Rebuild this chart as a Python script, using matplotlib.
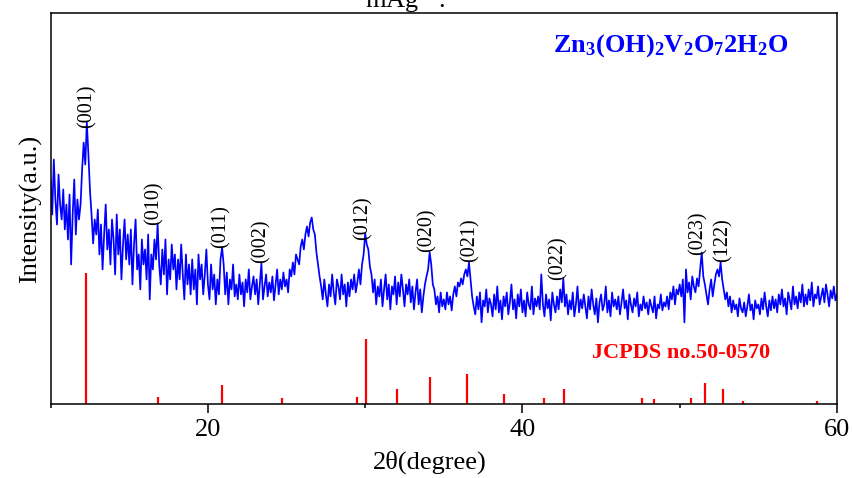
import numpy as np
import matplotlib
matplotlib.use("Agg")
import matplotlib.pyplot as plt
from matplotlib.ticker import MultipleLocator

plt.rcParams['font.family'] = ['Liberation Serif', 'DejaVu Serif']
plt.rcParams['mathtext.fontset'] = 'custom'
plt.rcParams['mathtext.rm'] = 'Liberation Serif'
plt.rcParams['mathtext.it'] = 'Liberation Serif:italic'
plt.rcParams['mathtext.bf'] = 'Liberation Serif:bold'

# measured pattern, 0.1 degree steps from 10 to 60 (a.u.)
two_theta = np.round(np.arange(10.0, 60.01, 0.1), 1)
intensity = [
    225, 190, 245, 205, 180, 230, 200, 185, 215, 175,
    200, 165, 210, 140, 190, 225, 170, 205, 185, 200,
    235, 262, 240, 282, 250, 214, 190, 161, 185, 170,
    195, 150, 180, 135, 170, 200, 155, 175, 140, 185,
    165, 130, 190, 150, 175, 125, 160, 185, 145, 170,
    140, 175, 120, 160, 185, 135, 150, 115, 165, 140,
    155, 125, 170, 105, 150, 135, 165, 145, 181, 140,
    120, 155, 130, 165, 110, 145, 125, 160, 135, 150,
    115, 145, 125, 160, 130, 105, 150, 120, 140, 110,
    145, 115, 135, 100, 150, 125, 140, 110, 130, 155,
    120, 105, 140, 115, 130, 100, 125, 110, 145, 157,
    140, 110, 132, 100, 125, 115, 140, 108, 120, 105,
    130, 110, 122, 98, 125, 112, 135, 105, 118, 128,
    110, 125, 100, 120, 141, 105, 118, 130, 108, 122,
    112, 128, 104, 120, 135, 110, 125, 115, 132, 118,
    125, 112, 135, 128, 142, 130, 150, 145, 140, 158,
    165, 155, 170, 178, 168, 182, 187, 175, 170, 152,
    140, 128, 118, 105, 125, 110, 98, 120, 108, 130,
    112, 100, 125, 118, 105, 130, 110, 120, 98, 122,
    108, 125, 115, 130, 112, 122, 135, 120, 140, 150,
    171, 160, 155, 138, 130, 112, 125, 100, 118, 108,
    125, 98, 115, 130, 105, 120, 95, 118, 110, 128,
    100, 122, 108, 130, 115, 98, 120, 110, 125, 102,
    118, 95, 112, 125, 100, 115, 92, 108, 120, 128,
    135, 152, 140, 120, 115, 100, 108, 92, 112, 98,
    105, 95, 112, 100, 108, 94, 110, 118, 108, 122,
    118, 126, 120, 130, 135, 128, 142, 125, 108, 98,
    90, 108, 95, 112, 82, 104, 98, 115, 92, 106,
    100, 88, 110, 95, 118, 92, 104, 85, 108, 98,
    112, 90, 102, 120, 95, 105, 86, 110, 98, 115,
    92, 104, 88, 112, 100, 95, 118, 90, 106, 98,
    108, 95, 130, 100, 88, 110, 96, 105, 84, 112,
    100, 92, 108, 95, 115, 102, 126, 98, 110, 90,
    104, 95, 112, 88, 100, 118, 92, 105, 96, 110,
    98, 86, 108, 95, 115, 100, 90, 106, 82, 102,
    110, 94, 100, 118, 92, 104, 88, 112, 98, 105,
    95, 108, 90, 102, 115, 96, 104, 85, 110, 100,
    92, 106, 98, 112, 88, 100, 94, 108, 96, 102,
    90, 105, 98, 92, 108, 86, 100, 96, 110, 94,
    102, 98, 108, 95, 112, 105, 118, 100, 115, 110,
    120, 108, 125, 82, 135, 112, 122, 105, 128, 118,
    112, 126, 118, 135, 152, 128, 120, 110, 100, 115,
    125, 108, 120, 130, 135, 128, 142, 125, 115, 105,
    112, 98, 108, 92, 104, 95, 100, 88, 106, 96,
    92, 102, 88, 98, 110, 94, 100, 85, 104, 96,
    100, 90, 106, 95, 112, 98, 88, 104, 94, 108,
    96, 105, 92, 110, 100, 115, 98, 106, 90, 112,
    104, 95, 118, 100, 108, 96, 112, 102, 120, 98,
    110, 100, 115, 104, 122, 98, 110, 106, 118, 100,
    108, 116, 102, 120, 110, 98, 114, 106, 118, 104,
    110,
]

# JCPDS 50-0570 reference lines
ref_pos = [12.23, 16.83, 20.89, 24.69, 29.46, 30.08, 32.04, 34.14, 36.47, 38.83,
           41.38, 42.65, 47.58, 48.38, 50.72, 51.61, 52.74, 54.01, 58.74]
ref_int = [131, 7, 19, 6, 7, 65, 15, 27, 30, 10,
           6, 15, 6, 5, 6, 21, 15, 3, 3]

# (hkl) labels: position, label base height
hkl_labels = ['(001)', '(010)', '(011)', '(002)', '(012)', '(020)', '(021)', '(022)', '(023)', '(122)']
hkl_pos = [12.3, 16.58, 20.85, 23.4, 29.83, 33.9, 36.64, 42.25, 51.16, 52.75]
hkl_base = [277, 179, 156, 141, 164, 152, 142, 124, 149, 142]

fig = plt.figure(figsize=(8.53, 4.78), dpi=100)
ax = fig.add_axes([0.0594, 0.1542, 0.9218, 0.8192])

ax.plot(two_theta, intensity, color='#0000ff', lw=1.25)
ax.vlines(ref_pos, 0, ref_int, color='#ff0000', lw=1.6)

for lab, xp, yb in zip(hkl_labels, hkl_pos, hkl_base):
    ax.text(xp, yb, lab, rotation=90, ha='center', va='bottom', fontsize=14.5)

ax.text(0.639, 0.917, r'$\mathbf{Zn_3(OH)_2V_2O_72H_2O}$', transform=ax.transAxes,
        color='#0000ff', fontsize=19, ha='left', va='center')
ax.text(0.688, 0.131, 'JCPDS no.50-0570', transform=ax.transAxes,
        color='#ff0000', fontsize=16, fontweight='bold', ha='left', va='center')

ax.set_xlim(10, 60)
ax.set_ylim(0, 392)
ax.xaxis.set_major_locator(MultipleLocator(20))
ax.xaxis.set_minor_locator(MultipleLocator(10))
ax.tick_params(axis='x', which='major', direction='out', length=6.5, width=1.1,
               labelsize=19, pad=4)
ax.tick_params(axis='x', which='minor', direction='out', length=3, width=1.1)
ax.set_yticks([])
for s in ax.spines.values():
    s.set_linewidth(1.1)

ax.set_xlabel('2θ(degree)', fontsize=19)
ax.xaxis.set_label_coords(0.482, -0.118)
ax.set_ylabel('Intensity(a.u.)', fontsize=19, labelpad=6)

fig.text(405 / 853, 1 - 8 / 478, r'mAg$^{-1}$.', ha='center', va='baseline', fontsize=19)

fig.savefig('out.png', dpi=100)
